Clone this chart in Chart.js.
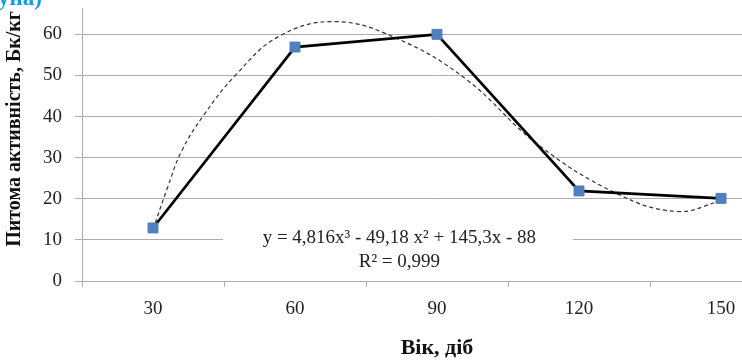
<!DOCTYPE html>
<html>
<head>
<meta charset="utf-8">
<script src="https://cdn.jsdelivr.net/npm/chart.js@4/dist/chart.umd.min.js"></script>
<style>
  html, body { margin: 0; padding: 0; background: #fff; overflow: hidden; width: 742px; height: 362px; }
  #wrap { position: relative; width: 742px; height: 362px; overflow: hidden; }
  #c { position: absolute; left: 0; top: 0; }
  #cap { position: absolute; left: -2px; top: -13px; font: bold 23px "Liberation Serif", serif; line-height: 22px; color: #109de6; white-space: nowrap; }
</style>
</head>
<body>
<div id="wrap">
  <canvas id="c" width="800" height="362"></canvas>
  <div id="cap">уна)</div>
</div>
<script>
// ---- data ----
const categories = ["30", "60", "90", "120", "150"];
const activity = [12.9, 56.9, 60.0, 21.9, 20.1];
// dashed polynomial trend line (x in days)
const trendDays = [30, 33, 36, 40.5, 47.4, 56.6, 68.6, 81.9, 96, 111.3, 128.1, 140.7, 150];
const trendVals = [12.5, 22.5, 31.5, 40.0, 50.0, 59.5, 63.1, 58.8, 49.2, 33.2, 21.2, 16.9, 19.5];
const yTicks = [0, 10, 20, 30, 40, 50, 60];
const yTitle = "Питома активність, Бк/кг";
const xTitle = "Вік, діб";
const eqLine1 = "y = 4,816x³ - 49,18 x² + 145,3x - 88";
const eqLine2 = "R² = 0,999";

const serif = '"Liberation Serif", "Times New Roman", serif';
const gridColor = '#adadad';

const overlay = {
  id: 'overlay',
  afterDatasetsDraw(chart) {
    const ctx = chart.ctx;
    const a = chart.chartArea;
    ctx.save();
    const cx = a.left + 0.447 * (a.right - a.left);
    ctx.fillStyle = '#ffffff';
    ctx.fillRect(a.left + 141, a.bottom - 55, 350, 46);
    ctx.fillStyle = '#222222';
    ctx.font = '19px ' + serif;
    ctx.textAlign = 'center';
    ctx.textBaseline = 'middle';
    ctx.fillText(eqLine1, cx, a.bottom - 43);
    ctx.fillText(eqLine2, cx, a.bottom - 19);
    ctx.restore();
  },
  afterDraw(chart) {
    const ctx = chart.ctx;
    ctx.save();
    ctx.translate(15, 129);
    ctx.rotate(-Math.PI / 2);
    ctx.font = 'bold 20px ' + serif;
    ctx.fillStyle = '#111111';
    ctx.textAlign = 'center';
    ctx.textBaseline = 'middle';
    ctx.fillText(yTitle, 0, 0);
    ctx.restore();
  }
};

new Chart(document.getElementById('c'), {
  type: 'line',
  data: {
    labels: categories,
    datasets: [
      {
        label: 'trend',
        data: trendDays.map((d, i) => ({ x: d, y: trendVals[i] })),
        xAxisID: 'x2',
        borderColor: '#333333',
        borderWidth: 1.2,
        borderDash: [4, 3],
        pointRadius: 0,
        tension: 0.4,
        fill: false,
        order: 2
      },
      {
        label: 'activity',
        data: activity,
        xAxisID: 'x',
        borderColor: '#000000',
        borderWidth: 2.7,
        pointStyle: 'rect',
        pointRadius: 7,
        pointBackgroundColor: '#4f81bd',
        pointBorderColor: '#4a7ab5',
        pointBorderWidth: 1,
        tension: 0,
        fill: false,
        order: 1
      }
    ]
  },
  options: {
    responsive: false,
    animation: false,
    devicePixelRatio: 1,
    layout: { padding: { left: 0, right: 3, top: 5, bottom: 0 } },
    plugins: { legend: { display: false }, tooltip: { enabled: false } },
    scales: {
      x: {
        type: 'category',
        offset: true,
        grid: { display: true, drawOnChartArea: false, drawTicks: true, tickLength: 6, offset: true, color: gridColor },
        border: { display: true, color: gridColor },
        ticks: { color: '#222', font: { family: serif, size: 19 }, padding: 11, maxRotation: 0 },
        title: { display: true, text: xTitle, color: '#111', font: { family: serif, size: 22, weight: 'bold' }, padding: { top: 0, bottom: 0 } },
        afterFit(s) { s.height = 81; s.paddingLeft = 0; s.paddingRight = 0; }
      },
      x2: {
        type: 'linear',
        display: false,
        min: 15,
        max: 165
      },
      y: {
        min: 0,
        max: 66.4,
        grid: { color: gridColor, tickLength: 7, drawTicks: true },
        border: { display: true, color: gridColor },
        afterBuildTicks(s) { s.ticks = yTicks.map(v => ({ value: v })); },
        ticks: { color: '#222', font: { family: serif, size: 19 }, padding: 13 },
        afterFit(s) { s.width = 82; s.paddingTop = 0; s.paddingBottom = 0; }
      }
    }
  },
  plugins: [overlay]
});
</script>
</body>
</html>
